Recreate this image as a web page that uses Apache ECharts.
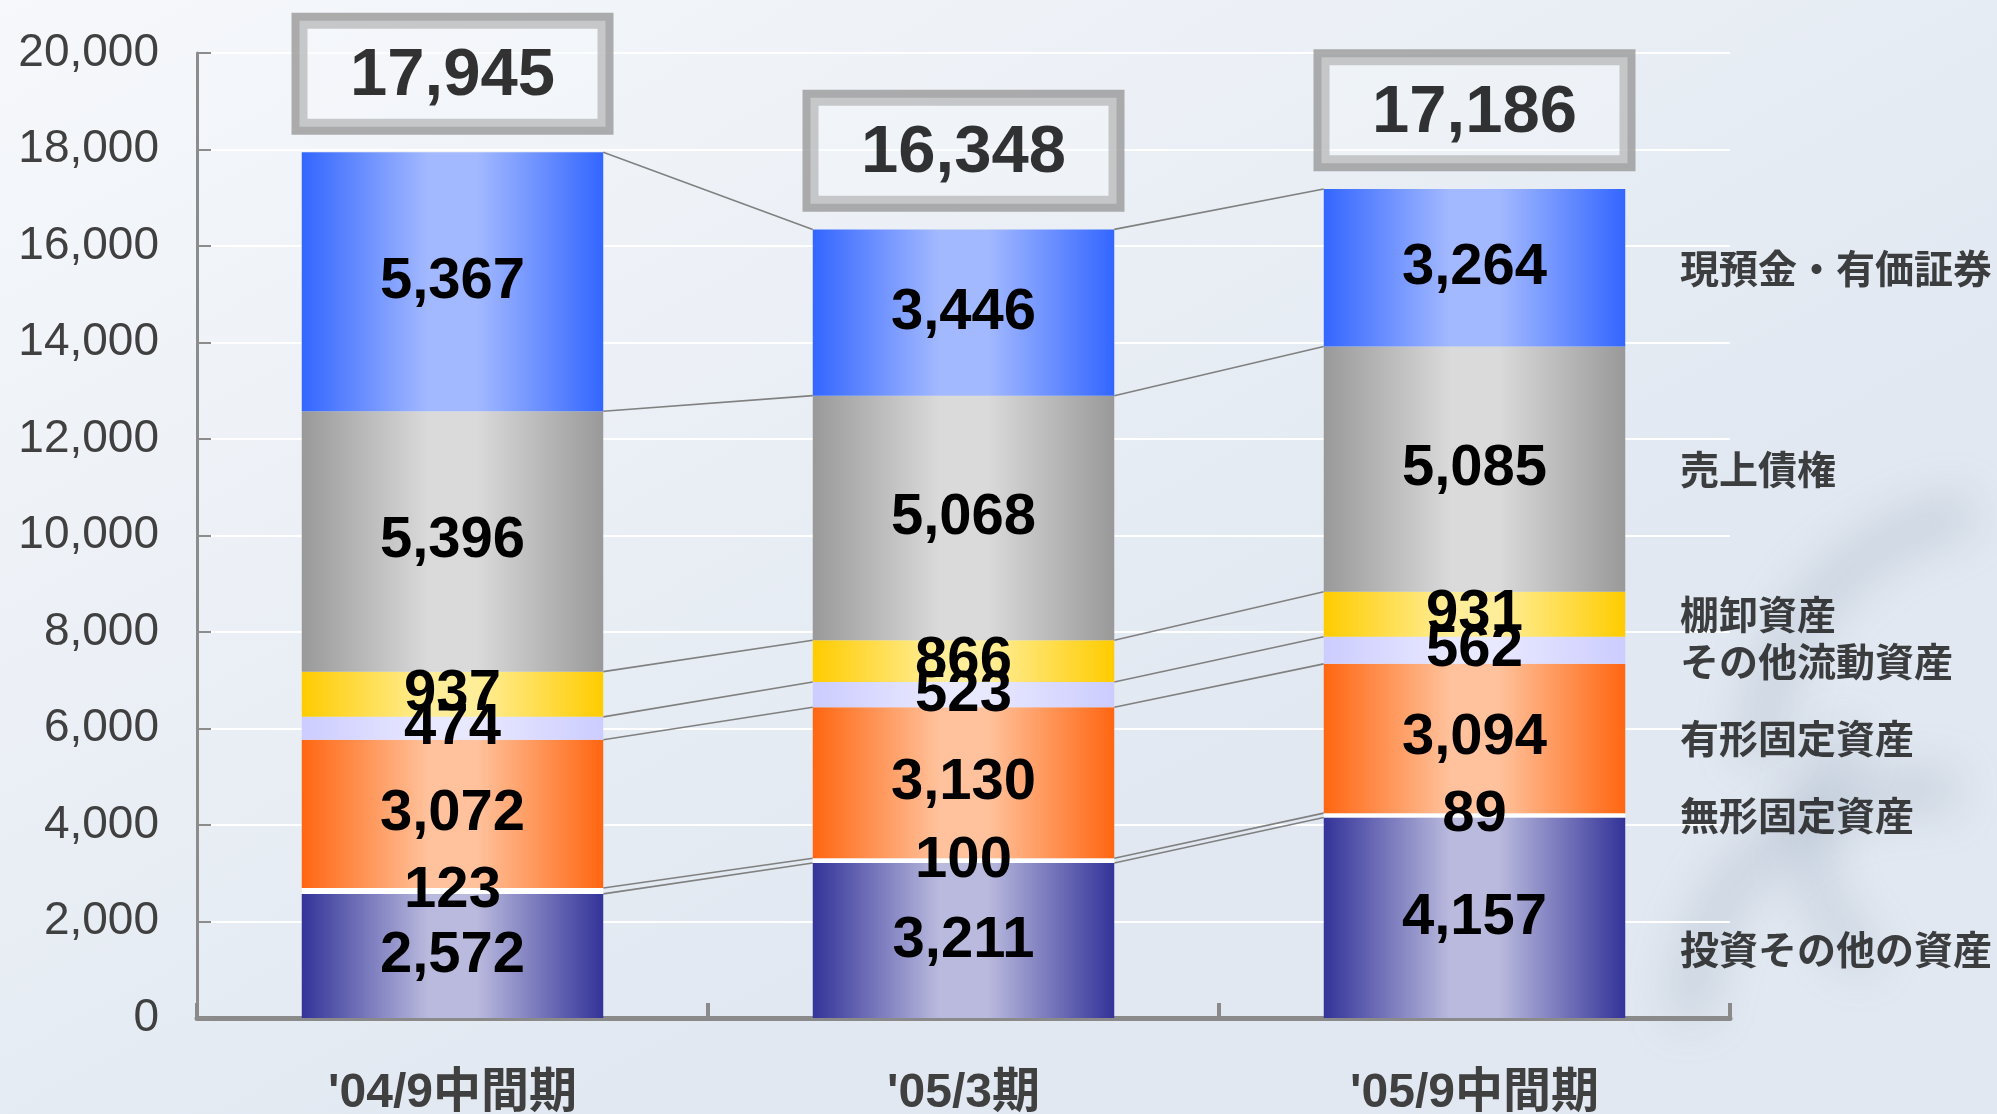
<!DOCTYPE html>
<html>
<head>
<meta charset="utf-8">
<script src="https://cdn.jsdelivr.net/npm/echarts@6/dist/echarts.min.js"></script>
<style>
  html, body { margin: 0; padding: 0; }
  #main { width: 1997px; height: 1114px; }
</style>
</head>
<body>
<div id="main"></div>
<script>
// 期
var categories = ["'04/9中間期", "'05/3期", "'05/9中間期"];

// 系列（下から順）
var seriesNames = ['投資その他の資産', '無形固定資産', '有形固定資産', 'その他流動資産', '棚卸資産', '売上債権', '現預金・有価証券'];
var investOther = [2572, 3211, 4157];
var intangible = [123, 100, 89];
var tangible = [3072, 3130, 3094];
var otherCurrent = [474, 523, 562];
var inventory = [937, 866, 931];
var receivables = [5396, 5068, 5085];
var cashSecurities = [5367, 3446, 3264];

// 合計（枠内表示）
var totals = [17945, 16348, 17186];

// y軸
var yMin = 0;
var yMax = 20000;
var yStep = 2000;

var values = [investOther, intangible, tangible, otherCurrent, inventory, receivables, cashSecurities];

// 色（端, 中央）
var colors = [
  ['#333399', '#babade'],
  ['#ffffff', '#ffffff'],
  ['#ff6611', '#ffc29c'],
  ['#ccccff', '#e8e8ff'],
  ['#ffcc00', '#ffee99'],
  ['#999999', '#dadada'],
  ['#3366ff', '#a3b9ff']
];

// 右側の系列名の上下ずれ(px)
var nameNudge = [31, 0, 0, 11, 0, 0, 0];

var BAR_W = 0.59;

function fmt(v) {
  return String(v).replace(/\B(?=(\d{3})+(?!\d))/g, ',');
}

function grad(edge, mid) {
  return new echarts.graphic.LinearGradient(0, 0, 1, 0, [
    { offset: 0, color: edge },
    { offset: 0.42, color: mid },
    { offset: 0.58, color: mid },
    { offset: 1, color: edge }
  ]);
}

// 累積
var cumTop = [];
var cumMid = [];
var run = [0, 0, 0];
values.forEach(function (arr, s) {
  cumTop[s] = [];
  cumMid[s] = [];
  arr.forEach(function (v, i) {
    cumMid[s][i] = run[i] + v / 2;
    run[i] += v;
    cumTop[s][i] = run[i];
  });
});

var series = [];

values.forEach(function (arr, s) {
  series.push({
    name: seriesNames[s],
    type: 'bar',
    stack: 'total',
    barWidth: (BAR_W * 100) + '%',
    itemStyle: { color: grad(colors[s][0], colors[s][1]) },
    label: {
      show: true,
      position: 'inside',
      formatter: function (p) { return fmt(p.value); },
      fontFamily: 'Liberation Sans, Arial, sans-serif',
      fontWeight: 'bold',
      fontSize: 58,
      color: '#000'
    },
    data: arr
  });
});

// 系列線
var lineData = [];
values.forEach(function (arr, s) {
  for (var i = 0; i < categories.length - 1; i++) {
    lineData.push([i, cumTop[s][i], cumTop[s][i + 1]]);
  }
});

series.push({
  type: 'custom',
  silent: true,
  data: lineData,
  encode: { x: 0, y: [1, 2] },
  renderItem: function (params, api) {
    var i = api.value(0);
    var p1 = api.coord([i, api.value(1)]);
    var p2 = api.coord([i + 1, api.value(2)]);
    var half = api.size([1, 0])[0] * BAR_W / 2;
    return {
      type: 'line',
      shape: { x1: p1[0] + half, y1: p1[1], x2: p2[0] - half, y2: p2[1] },
      style: { stroke: '#808080', lineWidth: 1.6 }
    };
  }
});

// 合計の枠
series.push({
  type: 'scatter',
  silent: true,
  symbolSize: 1,
  itemStyle: { color: 'rgba(0,0,0,0)' },
  label: {
    show: true,
    position: 'top',
    distance: 25,
    formatter: function (p) { return fmt(p.value[1]); },
    fontFamily: 'Liberation Sans, Arial, sans-serif',
    fontWeight: 'bold',
    fontSize: 67,
    color: '#000',
    width: 306,
    height: 100,
    lineHeight: 100,
    padding: [6, 0, 0, 0],
    align: 'center',
    verticalAlign: 'bottom',
    backgroundColor: 'rgba(246,249,252,0.45)',
    borderColor: '#999999',
    borderWidth: 8
  },
  data: totals.map(function (t, i) { return [i, t]; })
});

// 右側の系列名
series.push({
  type: 'scatter',
  silent: true,
  symbolSize: 1,
  itemStyle: { color: 'rgba(0,0,0,0)' },
  label: {
    show: true,
    position: 'right',
    distance: 205,
    formatter: function (p) { return p.name; },
    fontFamily: 'Noto Sans CJK JP, sans-serif',
    fontWeight: 'bold',
    fontSize: 39,
    color: '#111'
  },
  data: seriesNames.map(function (n, s) {
    return { name: n, value: [2, cumMid[s][2]], label: { offset: [0, nameNudge[s]] } };
  })
});

var myChart = echarts.init(document.getElementById('main'));

// 背景のぼかし模様（影だけを画面内に落とす）
var SHIFT = 4000;
function blurArc(cx, cy, r, a0, a1, w) {
  return {
    type: 'arc', silent: true, z: 0,
    shape: { cx: cx + SHIFT, cy: cy, r: r, startAngle: a0 * Math.PI, endAngle: a1 * Math.PI },
    style: {
      stroke: '#000', fill: 'none', lineWidth: w,
      shadowBlur: 45, shadowOffsetX: -SHIFT, shadowColor: 'rgba(140,155,176,0.28)'
    }
  };
}

var option = {
  animation: false,
  backgroundColor: new echarts.graphic.LinearGradient(0, 0, 0.3, 1, [
    { offset: 0, color: '#f6f8fb' },
    { offset: 1, color: '#e1e8f1' }
  ]),
  graphic: [
    blurArc(2010, 760, 250, 1.0, 1.45, 40),
    blurArc(1960, 840, 150, 0.7, 1.25, 34),
    blurArc(1920, 1020, 230, 1.0, 1.55, 40)
  ],
  grid: {
    left: 197,
    right: 267,
    top: 53,
    bottom: 96,
    outerBoundsMode: 'none'
  },
  xAxis: {
    type: 'category',
    data: categories,
    axisLine: { lineStyle: { color: '#8a8a8a', width: 5 } },
    axisTick: { show: true, inside: true, length: 15, lineStyle: { color: '#8a8a8a', width: 4 } },
    axisLabel: {
      margin: 52,
      fontSize: 48,
      fontWeight: 'bold',
      color: '#404040',
      fontFamily: 'Liberation Sans, Noto Sans CJK JP, sans-serif'
    }
  },
  yAxis: {
    type: 'value',
    min: yMin,
    max: yMax,
    interval: yStep,
    axisLine: { show: true, lineStyle: { color: '#8c8c8c', width: 3 } },
    axisTick: { show: true, inside: true, length: 14, lineStyle: { color: '#8c8c8c', width: 2 } },
    axisLabel: {
      margin: 38,
      fontSize: 46,
      color: '#404040',
      fontFamily: 'Liberation Sans, Arial, sans-serif',
      formatter: function (v) { return fmt(v); }
    },
    splitLine: { lineStyle: { color: '#ffffff', width: 2 } }
  },
  series: series
};

myChart.setOption(option);
</script>
</body>
</html>
